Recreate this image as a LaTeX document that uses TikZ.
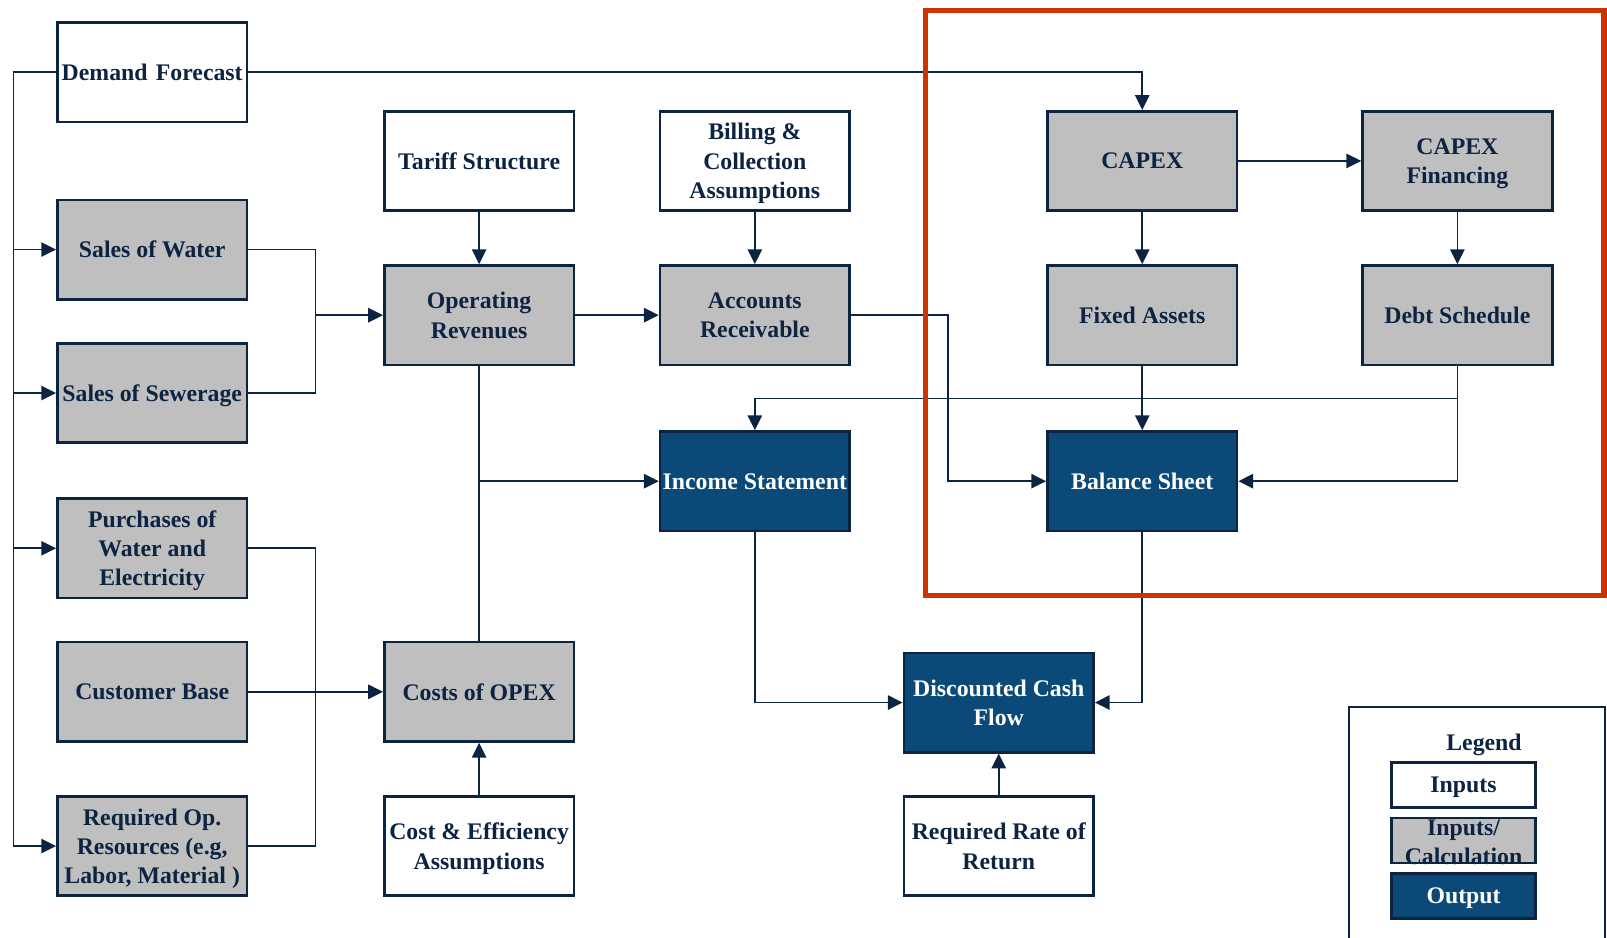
\documentclass[tikz,border=0pt]{standalone}
\usepackage{fontspec}
\setmainfont{Liberation Serif}
\usetikzlibrary{arrows.meta}
\definecolor{navy}{RGB}{12,35,66}
\definecolor{calcgray}{RGB}{191,191,191}
\definecolor{outblue}{RGB}{11,74,120}
\definecolor{focusred}{RGB}{204,51,0}
\begin{document}
\begin{tikzpicture}[x=0.5pt,y=-0.5pt,
  box/.style={draw=navy,line width=1.3pt,minimum width=92.5pt,minimum height=48.5pt,
    inner sep=1pt,align=center,text=navy,text depth=0pt,
    font=\fontsize{11.6}{14.25}\selectfont\bfseries},
  inbox/.style={box,fill=white},
  calcbox/.style={box,fill=calcgray},
  outbox/.style={box,fill=outblue,text=white},
  link/.style={draw=navy,line width=0.8pt},
  arr/.style={link,-{Triangle[length=7.2pt,width=7pt]}},
  legtext/.style={inner sep=0pt,align=center,font=\fontsize{11.6}{14.25}\selectfont\bfseries}
]
\useasboundingbox (0,0) rectangle (1568,915);

% column 1: demand and inputs
\node[inbox]   (df)  at (148.5,70.5)  {Demand\hspace{0.35em}Forecast};
\node[calcbox] (sw)  at (148.5,243.5) {Sales of Water};
\node[calcbox] (ss)  at (148.5,383.5) {Sales of Sewerage};
\node[calcbox] (pw)  at (148.5,535)   {Purchases of\\Water and\\Electricity};
\node[calcbox] (cb)  at (148.5,675)   {Customer Base};
\node[calcbox] (rop) at (148.5,825.5) {Required Op.\\Resources (e.g,\\Labor, Material )};

% column 2: revenues and opex
\node[inbox]   (ts)   at (467.5,157)   {Tariff Structure};
\node[calcbox] (orev) at (467.5,307.5) {Operating\\Revenues};
\node[calcbox] (opex) at (467.5,675)   {Costs of OPEX};
\node[inbox]   (cea)  at (467.5,825.5) {Cost \& Efficiency\\Assumptions};

% column 3: receivables and income
\node[inbox]   (bca) at (736.5,157)   {Billing \&\\Collection\\Assumptions};
\node[calcbox] (ar)  at (736.5,307.5) {Accounts\\Receivable};
\node[outbox]  (is)  at (736.5,469.5) {Income Statement};

% valuation
\node[outbox] (dcf) at (974.5,685.5) {Discounted Cash\\Flow};
\node[inbox]  (rrr) at (974.5,825.5) {Required Rate of\\Return};

% capital block
\node[calcbox] (capex) at (1114.5,157)   {CAPEX};
\node[calcbox] (cf)    at (1422,157)     {CAPEX\\Financing};
\node[calcbox] (fa)    at (1114.5,307.5) {Fixed Assets};
\node[calcbox] (ds)    at (1422,307.5)   {Debt Schedule};
\node[outbox]  (bs)    at (1114.5,469.5) {Balance Sheet};

% routing coordinates
\coordinate (spine) at (13,0);
\coordinate (mergeA) at (308,0);
\coordinate (mergeB) at (925,0);
\coordinate (debtrow) at (0,389);

% demand forecast feeds
\draw[arr] (df.west) -| (spine |- rop.west) -- (rop.west);
\draw[arr] (spine |- sw.west) -- (sw.west);
\draw[arr] (spine |- ss.west) -- (ss.west);
\draw[arr] (spine |- pw.west) -- (pw.west);
\draw[arr] (df.east) -| (capex.north);

% revenues
\draw[link] (sw.east) -| (mergeA |- ss.east) -- (ss.east);
\draw[arr] (mergeA |- orev.west) -- (orev.west);
\draw[arr] (ts.south) -- (orev.north);
\draw[arr] (bca.south) -- (ar.north);
\draw[arr] (orev.east) -- (ar.west);
\draw[arr] (ar.east) -| (mergeB |- bs.west) -- (bs.west);

% operating costs
\draw[link] (pw.east) -| (mergeA |- rop.east) -- (rop.east);
\draw[arr] (cb.east) -- (opex.west);
\draw[arr] (cea.north) -- (opex.south);
\draw[link] (orev.south) -- (opex.north);
\draw[arr] (orev.south |- is.west) -- (is.west);

% capital block flows
\draw[arr] (capex.east) -- (cf.west);
\draw[arr] (capex.south) -- (fa.north);
\draw[arr] (cf.south) -- (ds.north);
\draw[arr] (fa.south) -- (bs.north);
\draw[arr] (ds.south) -- (ds.south |- debtrow) -| (is.north);
\draw[arr] (ds.south |- debtrow) |- (bs.east);

% valuation flows
\draw[arr] (is.south) |- (dcf.west);
\draw[arr] (bs.south) |- (dcf.east);
\draw[arr] (rrr.north) -- (dcf.south);

% highlight frame
\draw[focusred,line width=2.6pt] (903,10) rectangle (1565,581);

% legend
\draw[navy,line width=0.9pt] (1316,935) -- (1316,690) -- (1566,690) -- (1566,935);
\node[legtext,text=navy] (legtitle) at (1448,727) {Legend};
\node[draw=navy,fill=white,line width=1.3pt,minimum width=70pt,minimum height=22pt,inner sep=0pt,
  text depth=0pt,text=navy,font=\fontsize{11.6}{14.25}\selectfont\bfseries] (legin) at (1428,766) {Inputs};
\fill[calcgray] (1358,798) rectangle (1498,842);
\node[legtext,text=navy] (legcalc) at (1428,822) {Inputs/\\Calculation};
\draw[navy,line width=1.3pt] (1358,798) rectangle (1498,842);
\node[draw=navy,fill=outblue,line width=1.3pt,minimum width=70pt,minimum height=22pt,inner sep=0pt,
  text depth=0pt,text=white,font=\fontsize{11.6}{14.25}\selectfont\bfseries] (legout) at (1428,874) {Output};
\end{tikzpicture}
\end{document}
